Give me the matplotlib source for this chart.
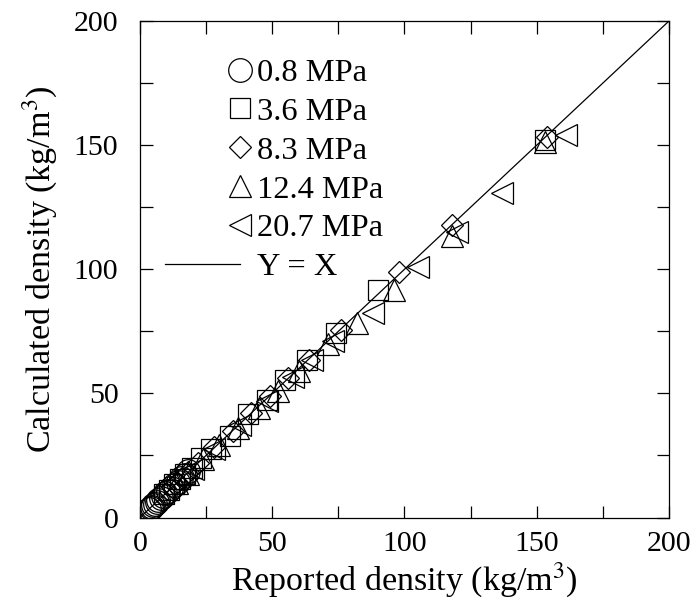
import numpy as np
import matplotlib
matplotlib.use("Agg")
import matplotlib.pyplot as plt
from matplotlib.legend_handler import HandlerLine2D
from matplotlib.lines import Line2D
from matplotlib.ticker import MultipleLocator

plt.rcParams['font.family'] = ['Liberation Serif', 'DejaVu Serif']
plt.rcParams['mathtext.fontset'] = 'stix'

# reported (x) vs calculated (y) density, kg/m3
p08_x = [3.6, 4.0, 4.5, 5.0, 5.6, 6.3, 7.0, 7.8, 8.7, 9.6, 10.6, 11.7, 12.9, 14.2, 15.6, 17.0, 18.2]
p08_y = [3.4, 3.8, 4.3, 4.9, 5.5, 6.2, 6.9, 7.8, 8.7, 9.7, 10.8, 11.9, 13.1, 14.4, 15.8, 17.3, 18.6]

p36_x = [9.0, 11.0, 13.0, 15.0, 17.0, 19.5, 23.0, 27.0, 34.0, 41.0, 48.0, 55.0, 63.0, 74.0, 90.0, 153.0]
p36_y = [9.5, 11.2, 13.5, 15.5, 17.5, 20.0, 24.0, 27.5, 33.0, 41.5, 47.5, 55.5, 63.5, 74.5, 91.5, 152.0]

p83_x = [12.0, 14.0, 16.0, 18.0, 22.0, 28.0, 35.0, 42.0, 49.0, 56.0, 64.0, 76.0, 98.0, 118.0, 154.0]
p83_y = [12.2, 14.3, 16.0, 18.2, 22.0, 28.3, 34.8, 42.0, 48.8, 56.2, 63.5, 75.5, 99.0, 117.8, 153.4]

p124_x = [14.0, 18.0, 24.0, 30.0, 37.0, 45.0, 52.0, 60.0, 71.0, 82.0, 96.0, 118.0, 153.0]
p124_y = [13.8, 17.6, 23.5, 29.4, 36.2, 44.2, 51.0, 59.0, 70.0, 78.2, 91.6, 113.5, 151.4]

p207_x = [20.0, 28.0, 38.0, 48.0, 58.0, 65.0, 73.0, 88.0, 105.0, 120.0, 137.0, 161.0]
p207_y = [19.6, 27.5, 37.3, 47.0, 56.8, 63.6, 71.2, 82.5, 101.0, 115.2, 130.6, 154.0]

line_xy = [0, 200]


class RightMarker(HandlerLine2D):
    # put the legend marker at the right end of the handle
    def create_artists(self, legend, orig_handle, xdescent, ydescent,
                       width, height, fontsize, trans):
        arts = super().create_artists(legend, orig_handle, xdescent, ydescent,
                                      width, height, fontsize, trans)
        for a in arts:
            if a.get_marker() not in ('', 'None', None, ' '):
                a.set_xdata([width - xdescent])
        return arts


fig = plt.figure(figsize=(6.96, 6.07), dpi=100)
ax = fig.add_axes([0.2011, 0.1474, 0.7601, 0.8180])

mk = dict(ls='none', mfc='none', mec='black', mew=0.9, color='black')
h1, = ax.plot(p08_x, p08_y, marker='o', ms=17, label='0.8 MPa', **mk)
h2, = ax.plot(p36_x, p36_y, marker='s', ms=14, label='3.6 MPa', **mk)
h3, = ax.plot(p83_x, p83_y, marker='D', ms=11, label='8.3 MPa', **mk)
h4, = ax.plot(p124_x, p124_y, marker='^', ms=16.5, label='12.4 MPa', **mk)
h5, = ax.plot(p207_x, p207_y, marker='<', ms=16.5, label='20.7 MPa', **mk)
h6, = ax.plot(line_xy, line_xy, color='black', lw=0.9, label='Y = X')

ax.set_xlim(0, 200)
ax.set_ylim(0, 200)
ax.xaxis.set_major_locator(MultipleLocator(50))
ax.yaxis.set_major_locator(MultipleLocator(50))
ax.xaxis.set_minor_locator(MultipleLocator(25))
ax.yaxis.set_minor_locator(MultipleLocator(25))
ax.tick_params(which='both', direction='in', top=True, right=True, labelsize=21.5, width=0.9)
ax.tick_params(which='major', length=9)
ax.tick_params(which='minor', length=9)
ax.tick_params(axis='x', which='major', pad=9.5)
ax.tick_params(axis='y', which='major', pad=15.5)
for s in ax.spines.values():
    s.set_linewidth(0.9)

ax.set_xlabel('Reported density (kg/m$^3$)', fontsize=24.5, labelpad=3)
ax.set_ylabel('Calculated density (kg/m$^3$)', fontsize=24.5, labelpad=11)

leg = ax.legend(handles=[h1, h2, h3, h4, h5, h6], handler_map={Line2D: RightMarker()},
                loc='upper left', bbox_to_anchor=(0.047, 0.925), frameon=False,
                fontsize=23.4, handlelength=2.3, handletextpad=0.55, labelspacing=0.28,
                borderaxespad=0, borderpad=0, numpoints=1)

fig.savefig('out.png', dpi=100)
